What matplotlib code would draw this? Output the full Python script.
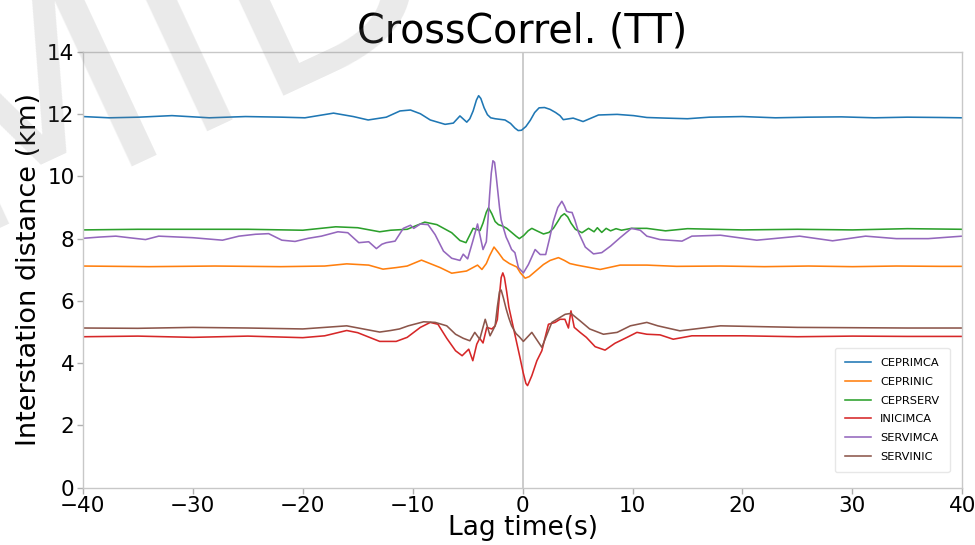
import matplotlib
matplotlib.use("Agg")
import matplotlib.pyplot as plt

# Cross-correlation traces, each plotted at its interstation distance (km)
names = ["CEPRIMCA", "CEPRINIC", "CEPRSERV", "INICIMCA", "SERVIMCA", "SERVINIC"]

t_ceprimca = [-40, -37.6, -34.9, -31.9, -28.5, -25.2, -21.9, -19.8, -17.2, -15.4, -14.05, -12.4,
              -11.15, -10.2, -9.3, -8.4, -7.05, -6.3, -5.7, -5.08, -4.8, -4.5, -4.2, -4.0, -3.8,
              -3.5, -3.2, -2.9, -2.5, -1.6, -1.1, -0.7, -0.4, -0.1, 0.3, 0.7, 1.1, 1.5, 2.0, 2.5,
              3.0, 3.4, 3.7, 4.6, 5.5, 6.9, 8.6, 10.1, 11.3,
              13, 15, 17, 20, 23, 26, 29, 32, 35, 38, 40]
v_ceprimca = [11.92, 11.88, 11.90, 11.95, 11.88, 11.92, 11.90, 11.88, 12.03, 11.92, 11.81, 11.90,
              12.10, 12.13, 12.01, 11.81, 11.67, 11.71, 11.94, 11.74, 11.85, 12.10, 12.45, 12.59, 12.50,
              12.20, 11.98, 11.88, 11.85, 11.81, 11.70, 11.55, 11.47, 11.48, 11.60, 11.80, 12.05, 12.20, 12.21, 12.15,
              12.05, 11.95, 11.82, 11.87, 11.76, 11.97, 11.99, 11.95, 11.89,
              11.87, 11.85, 11.90, 11.92, 11.88, 11.90, 11.91, 11.88, 11.90, 11.89, 11.88]

t_ceprinic = [-40, -34, -28, -22, -18, -16, -14, -12.7, -11.5, -10.5, -9.2, -7.5, -6.45, -5.1,
              -4.1, -3.7, -3.3, -3.0, -2.6, -2.2, -1.75, -1.2, -0.53, -0.2, 0.23, 0.6, 1.0, 1.5,
              1.9, 2.5, 3.26, 3.8, 4.3, 4.93, 7.05, 8.87,
              11.3, 14, 18, 22, 26, 30, 34, 38, 40]
v_ceprinic = [7.12, 7.10, 7.12, 7.10, 7.12, 7.19, 7.15, 7.02, 7.07, 7.12, 7.31, 7.07, 6.89, 6.96,
              7.15, 7.01, 7.20, 7.45, 7.73, 7.55, 7.33, 7.20, 7.09, 6.90, 6.73, 6.78, 6.90, 7.05,
              7.17, 7.30, 7.39, 7.30, 7.20, 7.15, 7.01, 7.15,
              7.15, 7.11, 7.12, 7.10, 7.12, 7.10, 7.12, 7.11, 7.11]

t_ceprserv = [-40, -35, -30, -25, -20, -17, -15, -13, -12, -10.5, -8.9, -7.8, -6.45, -5.7, -5.15,
              -4.5, -3.87, -3.6, -3.3, -3.1, -2.8, -2.5, -2.2, -1.8, -1.44, -1.0, -0.6, -0.3,
              0.1, 0.5, 0.84, 1.3, 1.9, 2.4, 2.8, 3.2, 3.5, 3.8, 4.1, 4.4, 4.8, 5.4, 6.0,
              6.5, 6.8, 7.2, 7.6, 8.0, 8.5, 9.0, 9.9, 11.3, 13, 15, 20, 25, 30, 35, 40]
v_ceprserv = [8.28, 8.30, 8.30, 8.30, 8.27, 8.38, 8.35, 8.22, 8.27, 8.30, 8.53, 8.45, 8.19, 7.94, 7.87,
              8.33, 8.26, 8.50, 8.85, 8.99, 8.80, 8.55, 8.45, 8.40, 8.33, 8.20, 8.08, 8.00,
              8.10, 8.25, 8.33, 8.25, 8.15, 8.20, 8.33, 8.55, 8.72, 8.80, 8.70, 8.50, 8.30, 8.19, 8.33,
              8.22, 8.35, 8.20, 8.33, 8.25, 8.32, 8.27, 8.33, 8.33, 8.25, 8.32, 8.28, 8.30, 8.28, 8.32, 8.30]

t_inicimca = [-40, -35, -30, -25, -20, -18, -16, -15, -13, -12, -11.5, -10.5, -9.3, -8.4, -7.7,
              -6.9, -6.1, -5.5, -4.9, -4.53, -4.17, -3.9, -3.6, -3.26, -2.8, -2.5, -2.3, -2.1,
              -1.95, -1.8, -1.65, -1.45, -1.25, -1.0, -0.75, -0.5, -0.25, 0.05, 0.3, 0.45, 0.6,
              0.84, 1.3, 1.75, 2.35, 2.95, 3.4, 3.85, 4.17, 4.4,
              4.7, 5.23, 5.8, 6.6, 7.5, 8.4, 9.5, 10.4, 11.3, 12.5, 13.7, 15.4, 20, 25, 30, 35, 40]
v_inicimca = [4.85, 4.87, 4.83, 4.87, 4.82, 4.88, 5.05, 4.98, 4.70, 4.70, 4.70, 4.83, 5.15, 5.31, 5.25,
              4.80, 4.40, 4.24, 4.45, 4.08, 4.61, 4.80, 4.65, 5.15, 5.10, 5.20, 5.40, 6.20,
              6.75, 6.90, 6.75, 6.30, 5.80, 5.40, 5.00, 4.60, 4.20, 3.70, 3.35, 3.28, 3.40,
              3.60, 4.08, 4.40, 5.25, 5.31, 5.41, 5.41, 5.13, 5.68,
              5.15, 4.99, 4.83, 4.53, 4.42, 4.64, 4.83, 4.99, 4.93, 4.91, 4.77, 4.88, 4.88, 4.85, 4.87, 4.86, 4.86]

t_servimca = [-40, -38.5, -37, -35.8, -34.3, -33.1, -30, -27.3, -25.8, -24.3, -23.1, -21.9, -20.7,
              -19.5, -18.3, -16.8, -15.9, -14.9, -14.0, -13.3, -12.8, -12.4, -11.6, -10.85, -10.2,
              -9.9, -9.3, -8.6, -7.96, -7.2, -6.45, -5.7, -5.4, -5.0, -4.53, -4.1, -3.6, -3.3,
              -3.15, -3.0, -2.85, -2.7, -2.55, -2.4, -2.25, -2.1, -1.95, -1.75, -1.5, -1.3,
              -1.0, -0.7, -0.38, 0.07, 0.53, 1.14, 1.6, 2.1, 2.45, 2.8, 3.2, 3.57, 3.8,
              4.0, 4.25, 4.5, 4.75, 5.1, 5.7, 6.45, 7.2, 8.0, 8.87, 9.9, 10.7, 11.3, 12.5, 14.5, 15.4, 18,
              21.3, 25.2, 28.2, 31.2, 34, 36.9, 40]
v_servimca = [8.01, 8.05, 8.08, 8.03, 7.97, 8.08, 8.03, 7.95, 8.08, 8.14, 8.16, 7.95, 7.91,
              8.01, 8.08, 8.22, 8.19, 7.87, 7.90, 7.68, 7.82, 7.87, 7.92, 8.33, 8.43,
              8.33, 8.47, 8.45, 8.13, 7.60, 7.37, 7.30, 7.50, 7.35, 7.92, 8.47, 7.65, 7.90,
              8.60, 9.40, 10.10, 10.50, 10.45, 10.00, 9.50, 9.00, 8.60, 8.35, 8.05, 7.90,
              7.65, 7.55, 7.07, 6.90, 7.17, 7.65, 7.49, 7.49, 8.00, 8.56, 9.00, 9.20, 9.05,
              8.88, 8.85, 8.84, 8.60, 8.19, 7.73, 7.51, 7.55, 7.76, 8.03, 8.33, 8.27, 8.08, 7.97, 7.92, 8.08, 8.11,
              7.95, 8.08, 7.93, 8.08, 8.00, 8.00, 8.08]

t_servinic = [-40, -35, -30, -25, -20, -16, -13, -12, -11.2, -10.4, -9.0, -7.95, -6.9, -6.1, -5.4,
              -4.8, -4.35, -3.9, -3.4, -2.96, -2.5, -2.3, -2.1, -1.95, -1.75, -1.5, -1.25, -1.0,
              -0.6, -0.3, 0.07, 0.84, 1.75,
              2.66, 3.87, 4.4, 5.23, 6.1, 7.35, 8.6, 9.8, 11.3, 12.3, 14.3, 18, 25, 30, 35, 40]
v_servinic = [5.13, 5.12, 5.15, 5.13, 5.10, 5.20, 5.00, 5.05, 5.10, 5.20, 5.33, 5.31, 5.20, 4.93, 4.80,
              4.72, 4.99, 4.77, 5.41, 4.88, 5.20, 5.80, 6.30, 6.35, 6.10, 5.75, 5.45, 5.20,
              4.95, 4.85, 4.70, 4.99, 4.51,
              5.31, 5.57, 5.60, 5.36, 5.10, 4.93, 4.99, 5.20, 5.31, 5.20, 5.04, 5.20, 5.15, 5.14, 5.13, 5.13]

series = [
    (t_ceprimca, v_ceprimca),
    (t_ceprinic, v_ceprinic),
    (t_ceprserv, v_ceprserv),
    (t_inicimca, v_inicimca),
    (t_servimca, v_servimca),
    (t_servinic, v_servinic),
]

x_ticks = [-40, -30, -20, -10, 0, 10, 20, 30, 40]
y_ticks = [0, 2, 4, 6, 8, 10, 12, 14]

fig = plt.figure(figsize=(9.75, 5.45), dpi=100)
ax = fig.add_axes([0.085, 0.105, 0.902, 0.8])

ax.axvline(0, color="#c8c8c8", lw=1.3, zorder=1)
for name, (tt, vv) in zip(names, series):
    ax.plot(tt, vv, lw=1.15, label=name, zorder=2)

ax.set_xlim(-40, 40)
ax.set_ylim(0, 14)
ax.set_xticks(x_ticks)
ax.set_yticks(y_ticks)
ax.tick_params(axis="both", labelsize=15.5, color="#b0b0b0", length=4, width=1, pad=2)
for sp in ax.spines.values():
    sp.set_color("#c8c8c8")
    sp.set_linewidth(1.0)

ax.set_title("CrossCorrel. (TT)", fontsize=28.5, pad=3)
ax.set_xlabel("Lag time(s)", fontsize=19, labelpad=-1)
ax.set_ylabel("Interstation distance (km)", fontsize=19.5, labelpad=4)

leg = ax.legend(loc="lower right", fontsize=8.2, frameon=True, borderpad=0.9,
                labelspacing=0.78, handlelength=2.3, handletextpad=0.8,
                bbox_to_anchor=(0.992, 0.022))
leg.get_frame().set_edgecolor("#e2e2e2")

# Faint diagonal watermark in the upper-left corner
fig.text(-0.044, 0.568, "MID", fontsize=205, rotation=25, rotation_mode="anchor",
         ha="left", va="baseline", color="#808080", alpha=0.17, zorder=10)

fig.savefig("out.png", dpi=100)
